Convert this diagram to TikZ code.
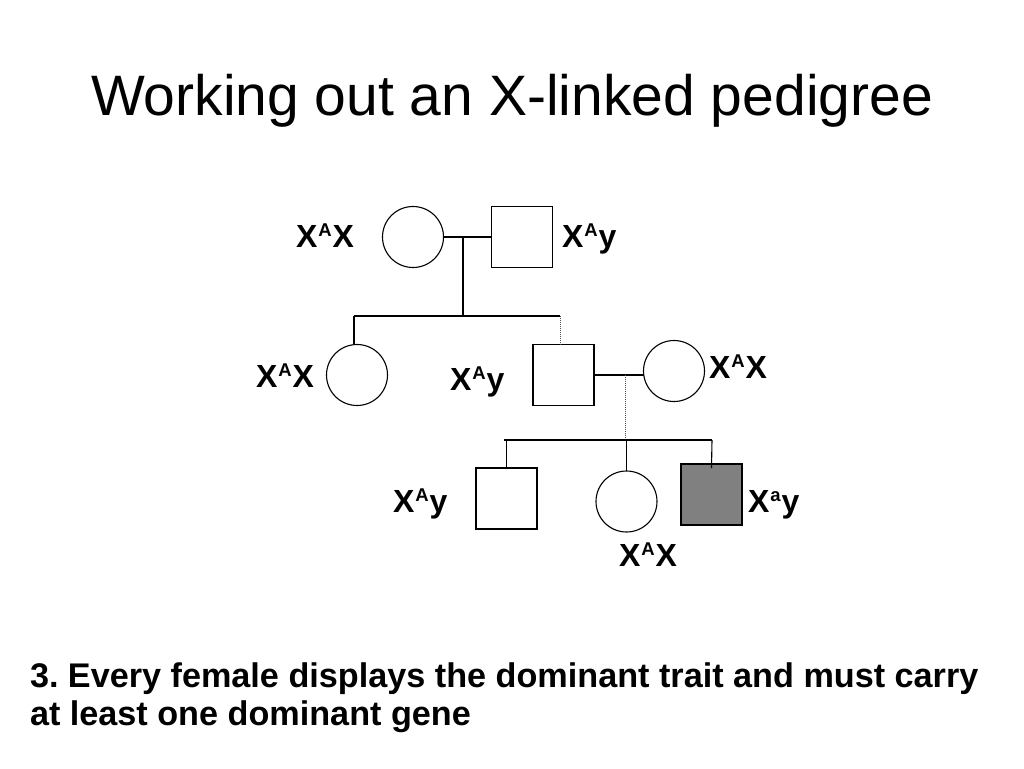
\documentclass[tikz,border=0pt]{standalone}
\usepackage{fontspec}
\setmainfont{Liberation Sans}
\frenchspacing
\newcommand{\gs}[1]{\kern1pt\raisebox{10.5pt}{\fontsize{18.5}{18.5}\selectfont #1}\kern1pt}
\begin{document}
\begin{tikzpicture}[x=1pt,y=-1pt,
  every node/.style={inner sep=0pt, outer sep=0pt},
  fem/.style={circle, draw, line width=1.1pt, minimum size=61pt},
  mal/.style={rectangle, draw, line width=1.1pt, minimum size=61pt},
  aff/.style={mal, fill=black!50},
  conn/.style={line width=1.1pt},
  dconn/.style={line width=0.9pt, dash pattern=on 1pt off 1pt, black!70},
  lab/.style={anchor=base west, font=\bfseries\fontsize{32}{36}\selectfont}]
\useasboundingbox (0,0) rectangle (1024,768);
\fill[white] (0,0) rectangle (1024,768);
% title
\node[anchor=base, font=\fontsize{57}{68}\selectfont] (title) at (512,115) {Working out an X-linked pedigree};
% generation 1
\node[fem] (c1) at (413,237) {};
\node[mal] (s1) at (522,237) {};
% generation 2
\node[fem] (c2) at (357,375) {};
\node[mal] (s2) at (563.5,375) {};
\node[fem] (c3) at (674,371) {};
% generation 3
\node[mal] (s3) at (506.5,498.5) {};
\node[fem] (c4) at (626.5,501.5) {};
\node[aff] (s4) at (711.5,494.5) {};
% connectors gen 1
\coordinate (m1) at (463,237);
\coordinate (j1) at (463,316);
\coordinate (j1L) at (354,316);
\coordinate (j1R) at (560,316);
\draw[conn] (c1.east) -- (s1.west);
\draw[conn] (m1) -- (j1);
\draw[conn] (j1L) -- (j1R);
\draw[conn] (j1L) -- (j1L |- c2.north);
\draw[dconn] (j1R) -- (j1R |- s2.north);
% connectors gen 2
\coordinate (m2) at (625,375);
\coordinate (j2) at (625,440);
\coordinate (j2L) at (504,440);
\coordinate (j2R) at (712,440);
\draw[conn] (s2.east) -- (s2.east -| c3.west);
\draw[dconn] (m2) -- (j2);
\draw[conn] (j2L) -- (j2R);
\draw[conn] (s3.north |- j2L) -- (s3.north);
\draw[conn] (c4.north |- j2) -- (c4.north);
\draw[conn] (j2R) -- ([yshift=-4pt]s4.north);
% labels
\node[lab] (l1) at (296,247) {X\gs{A}X};
\node[lab] (l2) at (562,247) {X\gs{A}y};
\node[lab] (l3) at (256,387) {X\gs{A}X};
\node[lab] (l4) at (450,390) {X\gs{A}y};
\node[lab] (l5) at (709,378) {X\gs{A}X};
\node[lab] (l6) at (393,512) {X\gs{A}y};
\node[lab] (l7) at (619,566) {X\gs{A}X};
\node[lab] (l8) at (748,512) {X\gs{a}y};
% bottom text
\node[anchor=base west, font=\bfseries\fontsize{34.2}{40}\selectfont] (t1) at (30,687) {3. Every female displays the dominant trait and must carry};
\node[anchor=base west, font=\bfseries\fontsize{34.2}{40}\selectfont] (t2) at (30,725) {at least one dominant gene};
\end{tikzpicture}
\end{document}
